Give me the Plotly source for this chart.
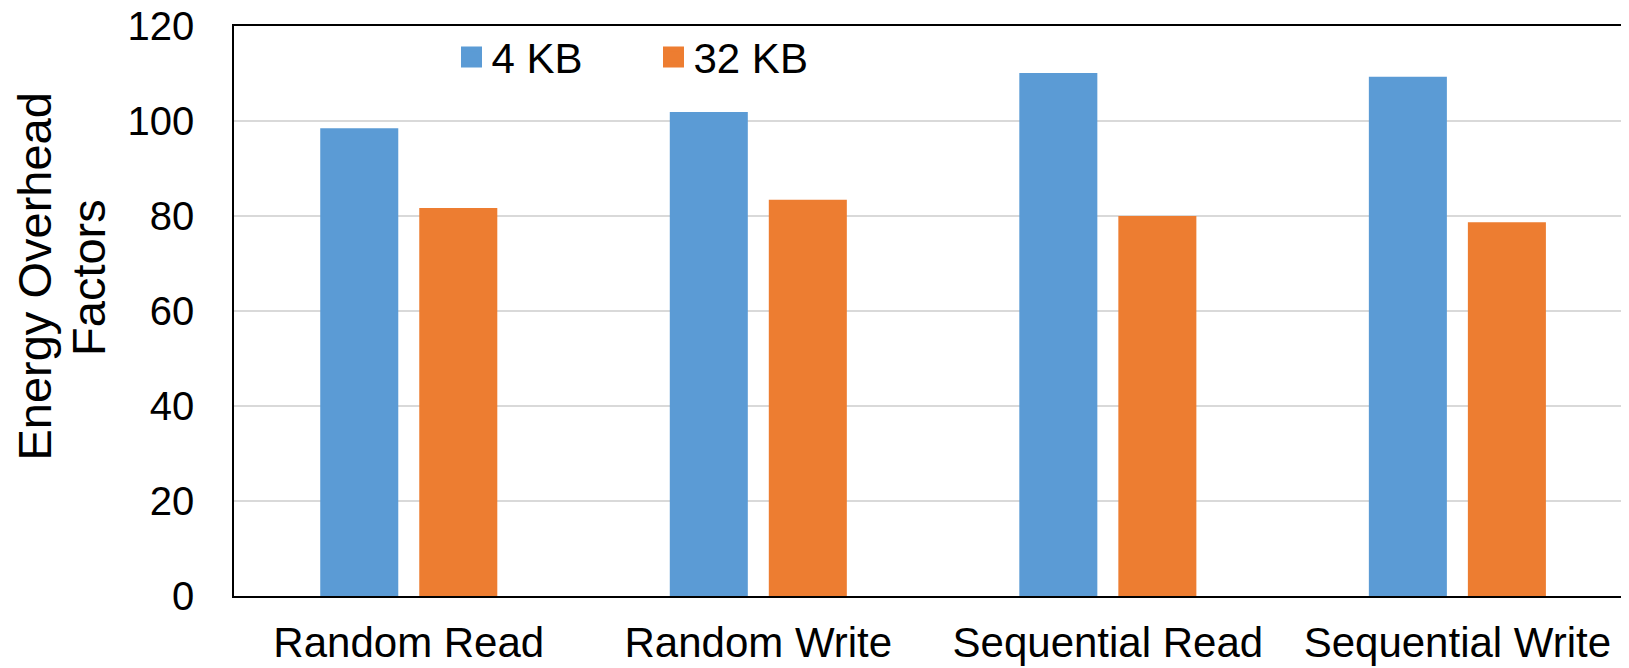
import plotly.graph_objects as go

categories = ["Random Read", "Random Write", "Sequential Read", "Sequential Write"]
series_names = ["4 KB", "32 KB"]
values_4kb = [98.5, 101.9, 110.1, 109.3]
values_32kb = [81.7, 83.4, 80.0, 78.7]
colors = ["#5B9BD5", "#ED7D31"]
y_ticks = [0, 20, 40, 60, 80, 100, 120]
y_title_lines = ["Energy Overhead", "Factors"]

FONT = "Liberation Sans, Arial, sans-serif"

fig = go.Figure()
for name, vals, col in zip(series_names, [values_4kb, values_32kb], colors):
    fig.add_trace(go.Bar(x=categories, y=vals, name=name,
                         marker=dict(color=col, line=dict(width=0)),
                         showlegend=False))
# legend proxies (larger square symbols, like the reference legend)
for name, col in zip(series_names, colors):
    fig.add_trace(go.Scatter(x=[None], y=[None], mode="markers", name=name,
                             marker=dict(symbol="square", size=16, color=col,
                                         line=dict(color=col, width=5))))

# two-line rotated y-axis title
for txt, xp in zip(y_title_lines, [-0.1430, -0.1047]):
    fig.add_annotation(text=txt, xref="paper", yref="paper", x=xp, y=0.5596,
                       xanchor="center", yanchor="middle", textangle=-90,
                       showarrow=False, font=dict(size=47, family=FONT, color="black"))

fig.update_layout(
    width=1621, height=660,
    margin=dict(l=226, r=0, t=18, b=72, autoexpand=False),
    paper_bgcolor="white", plot_bgcolor="white",
    barmode="group", bargap=0.4334, bargroupgap=0.212,
    font=dict(family=FONT, size=42, color="black"),
    legend=dict(orientation="h", x=0.1559, y=1.005, xanchor="left", yanchor="top",
                font=dict(size=42), bgcolor="rgba(0,0,0,0)", entrywidth=157,
                itemsizing="trace"),
)
fig.update_xaxes(
    range=[-0.5, 3.491], automargin=False, showline=True, linecolor="black",
    linewidth=2, mirror=True, showgrid=False, ticks="", tickfont=dict(size=42),
    ticklabelstandoff=9,
)
fig.update_yaxes(
    range=[0, 120], automargin=False, tickvals=y_ticks, showline=True,
    linecolor="black", linewidth=1.5, showgrid=True, gridcolor="#D9D9D9",
    gridwidth=1.5, zeroline=False, ticks="", tickfont=dict(size=40),
    ticklabelstandoff=30, ticklabeloverflow="allow",
)

fig.write_html("out.html")
